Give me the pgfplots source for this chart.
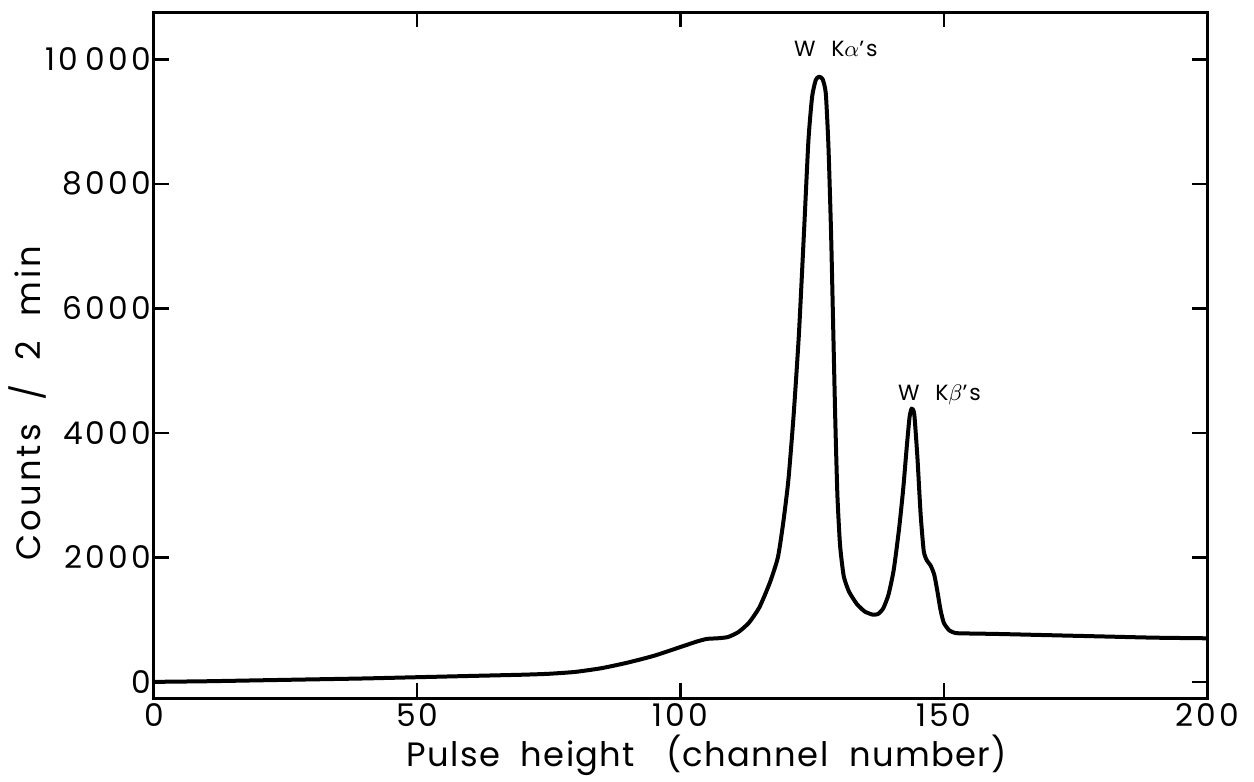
\documentclass[border=0pt]{standalone}
\usepackage{pgfplots}
\pgfplotsset{compat=1.18}
\usepackage{fontspec}
\setmainfont{Poppins}
\newfontfamily\tickfont[LetterSpace=10]{Poppins}
\newfontfamily\labfont[LetterSpace=9]{Poppins}
\newfontfamily\xlabfont[LetterSpace=4]{Poppins}

% pulse height spectrum
\pgfplotstableread{
ch     counts
0      0
10     10
20     25
30     40
40     55
50     75
60     95
70     115
75     130
80     160
85     220
90     310
95     420
100    560
103    645
105    690
107    700
109    720
111    800
113    950
115    1200
117    1600
118.5  2000
119.5  2550
120.5  3250
121.5  4300
122.5  5600
123.5  7300
124.3  8700
125    9400
125.7  9670
126.3  9720
127    9680
127.6  9450
128.1  8600
128.6  7200
129    5700
129.4  4200
129.8  3000
130.3  2200
131    1700
132    1450
133.5  1250
135    1130
136.5  1080
137.5  1090
138.5  1180
139.5  1400
140.5  1800
141.5  2450
142.3  3100
143    3800
143.5  4250
143.9  4390
144.4  4300
145    3600
145.6  2700
146.2  2100
146.8  1950
147.5  1870
148.2  1720
148.8  1450
149.4  1150
150    950
151    830
152    790
153    780
160    770
170    750
180    730
190    710
200    700
}\spectrum

\begin{document}
\begin{tikzpicture}
\begin{axis}[
    scale only axis,
    width=421.2pt, height=274.4pt,
    xmin=0, xmax=200,
    ymin=-260, ymax=10760,
    xtick={0,50,100,150,200},
    ytick={0,2000,4000,6000,8000,10000},
    yticklabels={0,2000,4000,6000,8000,10\hspace{0.25em}000},
    scaled y ticks=false,
    /pgf/number format/assume math mode=true,
    tick align=inside,
    major tick length=6pt,
    axis line style={line width=1.2pt},
    every tick/.style={black, line width=1pt},
    ticklabel style={font=\tickfont\fontsize{12.5}{14}\selectfont},
    yticklabel style={inner sep=1pt},
    xticklabel style={inner sep=2pt},
    xlabel={Pulse\ \ height\ \ \ (channel\ \ number)},
    ylabel={Counts\ \ /\ \ 2\ \ min},
    label style={font=\labfont\fontsize{13.5}{15}\selectfont},
    xlabel style={font=\xlabfont\fontsize{13.5}{15}\selectfont,
        at={(axis description cs:0.525,-0.083)}, anchor=center},
    ylabel style={at={(axis description cs:-0.1197,0.43)}, anchor=center, rotate=0},
    clip=false,
]
\addplot[black, line width=1.6pt, line join=round, smooth, tension=0.35]
    table[x=ch, y=counts] {\spectrum};

\node[font=\labfont\fontsize{8.8}{10}\selectfont] at (axis cs:129.5,10170) {W\ \ K$\alpha$’s};
\node[font=\labfont\fontsize{8.8}{10}\selectfont] at (axis cs:149.2,4610) {W\ \ K$\beta$’s};

\coordinate (bl) at (rel axis cs:-0.1462,-0.121);
\coordinate (tr) at (rel axis cs:1.0446,1.0175);
\end{axis}
\pgfresetboundingbox
\path[use as bounding box] (bl) rectangle (tr);
\end{tikzpicture}
\end{document}
